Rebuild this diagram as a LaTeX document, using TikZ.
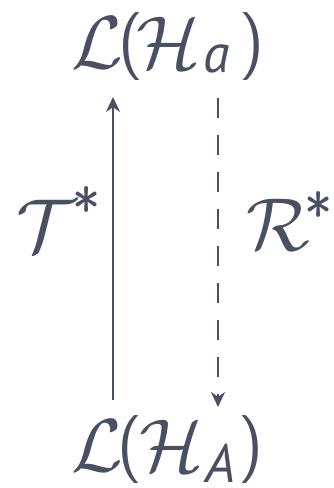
\documentclass[tikz,border=0pt]{standalone}
\usepackage{fontspec}
\DeclareFontShape{OMS}{cmsy}{m}{n}{<->cmsy10}{}
\DeclareFontShape{OML}{cmm}{m}{it}{<->cmmi10}{}
\DeclareFontShape{OT1}{cmr}{m}{n}{<->cmr10}{}
\DeclareFontShape{OMX}{cmex}{m}{n}{<->cmex10}{}
\newfontfamily\subfont{PT Sans}
\usetikzlibrary{arrows.meta}
\definecolor{ink}{HTML}{4A5063}
\newcommand{\putat}[3]{\rlap{\kern#1pt\raisebox{#2pt}{#3}}}
\newcommand{\mycal}[1]{\fontsize{75}{80}\selectfont$\mathcal{#1}$}
\newcommand{\mysub}[1]{\subfont\itshape\fontsize{54}{56}\selectfont #1}
\newcommand{\mypar}[1]{\sffamily\fontsize{68}{70}\selectfont #1}
\newcommand{\mystar}{\sffamily\fontsize{60}{64}\selectfont *}
\begin{document}
\begin{tikzpicture}[x=1pt,y=-1pt,
  lbl/.style={inner sep=0pt,anchor=base west,text=ink},
  arr/.style={draw=ink,line width=2.4pt,-{Stealth[length=15pt,width=14pt]}}]
\useasboundingbox (0,0) rectangle (334,488);
\node[lbl] (top) at (0,68) {\putat{71}{0}{\mycal L}\putat{118}{5}{\mypar (}\putat{136}{0}{\mycal H}\putat{203}{-4}{\mysub a}\putat{239}{5}{\mypar )}\kern260pt};
\node[lbl] (bot) at (0,471) {\putat{71}{0}{\mycal L}\putat{117}{5}{\mypar (}\putat{139}{0}{\mycal H}\putat{205}{-11}{\mysub A}\putat{238}{5}{\mypar )}\kern258pt};
\node[lbl] (T) at (16,251) {\putat{0}{0}{\mycal T}\putat{56}{20}{\mystar}\kern80pt};
\node[lbl] (R) at (246,250) {\putat{0}{0}{\mycal R}\putat{58}{14}{\mystar}\kern80pt};
\coordinate (u1) at (113,400);
\coordinate (u2) at (113,97);
\coordinate (d1) at (218,98);
\coordinate (d2) at (218,407);
\draw[arr] (u1) -- (u2);
\draw[arr,dash pattern=on 20pt off 17pt] (d1) -- (d2);
\end{tikzpicture}
\end{document}
